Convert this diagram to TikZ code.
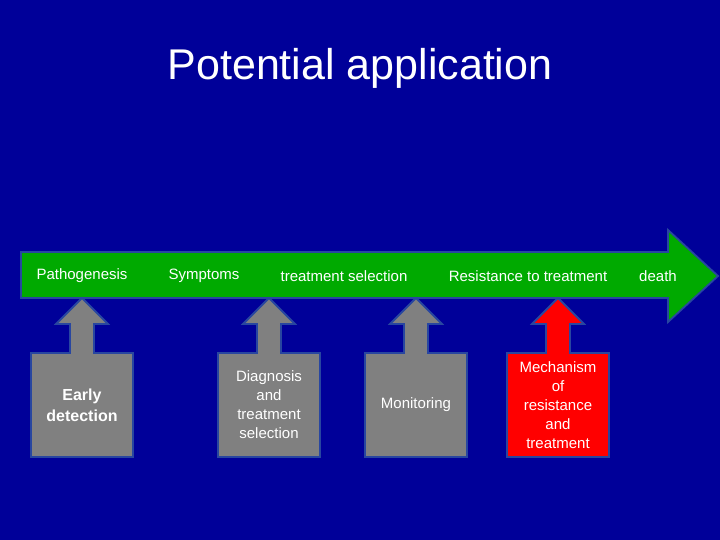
\documentclass[tikz,border=0pt]{standalone}
\usepackage{fontspec}
\setmainfont{Liberation Sans}
\begin{document}
\begin{tikzpicture}[x=1pt,y=-1pt,
  edge/.style={draw=edgeblue,line width=1.8pt,line join=miter},
  lbl/.style={text=white,font=\fontsize{15}{19}\selectfont,align=center,inner sep=0pt}]
\definecolor{bg}{RGB}{0,0,153}
\definecolor{edgeblue}{RGB}{40,70,160}
\definecolor{grn}{RGB}{0,170,0}
\definecolor{gry}{RGB}{128,128,128}
\fill[bg] (0,0) rectangle (720,540);
\useasboundingbox (0,0) rectangle (720,540);
\node[text=white,font=\fontsize{43}{50}\selectfont] (title) at (360,68) {Potential application};
\path[edge,fill=grn] (21,252) -- (668,252) -- (668,230) -- (718,276) -- (668,322) -- (668,298) -- (21,298) -- cycle;
\foreach \cx/\col/\nm in {82/gry/a,269/gry/b,416/gry/c,558/red/d}{
  \path[edge,fill=\col] (\cx-51,353) -- (\cx-12,353) -- (\cx-12,324) -- (\cx-26,324) -- (\cx,298) -- (\cx+26,324) -- (\cx+12,324) -- (\cx+12,353) -- (\cx+51,353) -- (\cx+51,457) -- (\cx-51,457) -- cycle;
  \coordinate (box\nm) at (\cx,405);
}
\node[lbl] (p1) at (82,276) {Pathogenesis};
\node[lbl] (p2) at (204,276) {Symptoms};
\node[lbl] (p3) at (344,276) {treatment selection};
\node[lbl] (p4) at (528,276) {Resistance to treatment};
\node[lbl] (p5) at (658,276) {death};
\node[lbl,font=\bfseries\fontsize{16}{21}\selectfont] (t1) at (boxa) {Early\\detection};
\node[lbl] (t2) at (boxb) {Diagnosis\\and\\treatment\\selection};
\node[lbl] (t3) at (boxc) {Monitoring};
\node[lbl] (t4) at (boxd) {Mechanism\\of\\resistance\\and\\treatment};
\end{tikzpicture}
\end{document}
